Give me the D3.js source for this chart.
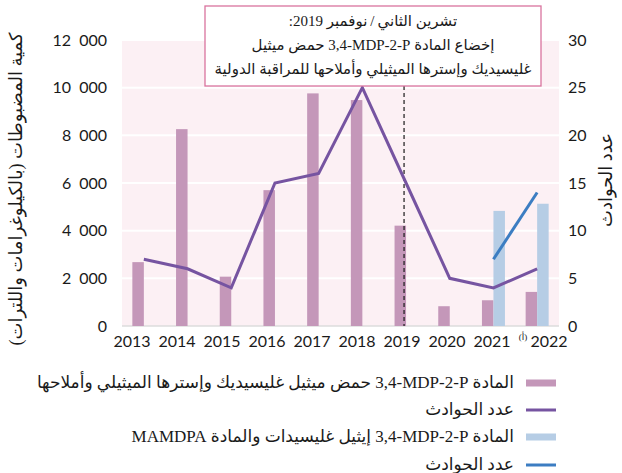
<!DOCTYPE html>
<html>
<head>
<meta charset="utf-8">
<script src="https://cdn.jsdelivr.net/npm/d3@7"></script>
<style>
  html, body { margin: 0; padding: 0; background: #ffffff; }
  svg { display: block; }
  .num { font-family: Lato, "Open Sans", sans-serif; fill: #1a1a1a; }
  .ar { font-family: "Liberation Serif", "DejaVu Sans", serif; fill: #1a1a1a; }
</style>
</head>
<body>
<svg id="chart" width="622" height="473"></svg>
<script>
// ---- data ----
const years = [2013, 2014, 2015, 2016, 2017, 2018, 2019, 2020, 2021, 2022];
const seizuresMGA = [2680, 8260, 2070, 5700, 9760, 9480, 4210, 830, 1080, 1430];
const incidentsMGA = [7, 6, 4, 15, 16, 25, 15, 5, 4, 6];
const yearsEG = [2021, 2022];
const seizuresEG = [4830, 5130];
const incidentsEG = [7, 14];
const leftTicks = [0, 2000, 4000, 6000, 8000, 10000, 12000];
const rightTicks = [0, 5, 10, 15, 20, 25, 30];
const noteYear = 2022;
const scheduleYear = 2019;

const LRI = "\u2066", PDI = "\u2069";
const leftTitle = "كمية المضبوطات (بالكيلوغرامات واللترات)";
const rightTitle = "عدد الحوادث";
const annotationLines = [
  "تشرين الثاني\u2009/\u2009نوفمبر 2019:",
  "إخضاع المادة " + LRI + "3,4-MDP-2-P" + PDI + " حمض ميثيل",
  "غليسيديك وإسترها الميثيلي وأملاحها للمراقبة الدولية"
];
const legendItems = [
  { type: "bar",  color: "#c497b9", label: "المادة " + LRI + "3,4-MDP-2-P" + PDI + " حمض ميثيل غليسيديك وإسترها الميثيلي وأملاحها" },
  { type: "line", color: "#7654a1", label: "عدد الحوادث" },
  { type: "bar",  color: "#b6cde5", label: "المادة " + LRI + "3,4-MDP-2-P" + PDI + " إيثيل غليسيدات والمادة " + LRI + "MAMDPA" + PDI },
  { type: "line", color: "#3c7dc2", label: "عدد الحوادث" }
];

// ---- layout ----
const plot = { left: 122, right: 559, top: 40, bottom: 326 };
const barW = 11.5;
const colors = { bg: "#fcf0f4", pink: "#c497b9", purple: "#7654a1", blue: "#b6cde5", blueLine: "#3c7dc2", box: "#d9739e" };

const svg = d3.select("#chart");

const x = d3.scaleBand().domain(years).range([plot.left, plot.right]).padding(0);
const xc = d => x(d) + x.bandwidth() / 2;
const xLabel = d3.scalePoint().domain(years).range([132, 537]);
const yL = d3.scaleLinear().domain([0, 12000]).range([plot.bottom, plot.top]);
const yR = d3.scaleLinear().domain([0, 30]).range([plot.bottom, plot.top]);

// background
svg.append("rect")
  .attr("x", plot.left).attr("y", plot.top)
  .attr("width", plot.right - plot.left).attr("height", plot.bottom - plot.top)
  .attr("fill", colors.bg);

// gridlines
svg.append("g").selectAll("line").data(leftTicks.filter(t => t > 0)).join("line")
  .attr("x1", plot.left).attr("x2", plot.right)
  .attr("y1", d => yL(d)).attr("y2", d => yL(d))
  .attr("stroke", "#ffffff").attr("stroke-width", 2);

// baseline
svg.append("line")
  .attr("x1", plot.left).attr("x2", plot.right)
  .attr("y1", yL(0)).attr("y2", yL(0))
  .attr("stroke", "#dcdcdc").attr("stroke-width", 1.5);

// bars MGA (pink)
svg.append("g").selectAll("rect").data(years.map((y, i) => ({ y, v: seizuresMGA[i] }))).join("rect")
  .attr("x", d => xc(d.y) - barW)
  .attr("y", d => yL(d.v))
  .attr("width", barW)
  .attr("height", d => yL(0) - yL(d.v))
  .attr("fill", colors.pink);

// bars EG (blue)
svg.append("g").selectAll("rect").data(yearsEG.map((y, i) => ({ y, v: seizuresEG[i] }))).join("rect")
  .attr("x", d => xc(d.y))
  .attr("y", d => yL(d.v))
  .attr("width", barW)
  .attr("height", d => yL(0) - yL(d.v))
  .attr("fill", colors.blue);

// dashed scheduling line
svg.append("line")
  .attr("x1", xc(scheduleYear) - 2).attr("x2", xc(scheduleYear) - 2)
  .attr("y1", 86).attr("y2", yL(0))
  .attr("stroke", "#1a1a1a").attr("stroke-width", 1.2)
  .attr("stroke-dasharray", "4,3");

// lines
const lineGen = d3.line().x(d => xc(d.y)).y(d => yR(d.v));
svg.append("path")
  .datum(years.map((y, i) => ({ y, v: incidentsMGA[i] })))
  .attr("d", lineGen)
  .attr("fill", "none").attr("stroke", colors.purple).attr("stroke-width", 3)
  .attr("stroke-linejoin", "miter");
svg.append("path")
  .datum(yearsEG.map((y, i) => ({ y, v: incidentsEG[i] })))
  .attr("d", lineGen)
  .attr("fill", "none").attr("stroke", colors.blueLine).attr("stroke-width", 3);

// axes
const loc = d3.formatLocale({ decimal: ".", thousands: "\u2002", grouping: [3], currency: ["", ""] });
const fmt = loc.format(",");
const axL = svg.append("g").attr("transform", `translate(${plot.left},0)`)
  .call(d3.axisLeft(yL).tickValues(leftTicks).tickSize(0).tickPadding(15).tickFormat(fmt));
axL.select(".domain").remove();
axL.selectAll("text").attr("font-size", 16).attr("fill", "#1a1a1a").attr("font-family", "Lato, sans-serif");

const axR = svg.append("g").attr("transform", `translate(${plot.right},0)`)
  .call(d3.axisRight(yR).tickValues(rightTicks).tickSize(0).tickPadding(9));
axR.select(".domain").remove();
axR.selectAll("text").attr("font-size", 16).attr("fill", "#1a1a1a").attr("font-family", "Lato, sans-serif");

// x labels
svg.append("g").selectAll("text").data(years).join("text")
  .attr("class", "num")
  .attr("x", d => xLabel(d) + (d === noteYear ? 12 : 0))
  .attr("y", 347)
  .attr("text-anchor", "middle")
  .attr("font-size", 16)
  .text(d => d);
svg.append("text")
  .attr("class", "ar")
  .attr("x", xLabel(noteYear) - 14).attr("y", 340)
  .attr("text-anchor", "middle")
  .attr("font-size", 9)
  .text("(أ)");

// axis titles
svg.append("text")
  .attr("class", "ar")
  .attr("transform", "translate(22,189) rotate(-90)")
  .attr("text-anchor", "middle")
  .attr("direction", "rtl")
  .attr("font-size", 18)
  .text(leftTitle);
svg.append("text")
  .attr("class", "ar")
  .attr("transform", "translate(612,180) rotate(-90)")
  .attr("text-anchor", "middle")
  .attr("direction", "rtl")
  .attr("font-size", 18)
  .text(rightTitle);

// annotation box
svg.append("rect")
  .attr("x", 205).attr("y", 6).attr("width", 336).attr("height", 80)
  .attr("fill", "#ffffff").attr("stroke", colors.box).attr("stroke-width", 1.3);
svg.append("g").selectAll("text").data(annotationLines).join("text")
  .attr("class", "ar")
  .attr("x", 373)
  .attr("y", (d, i) => 26 + i * 24)
  .attr("text-anchor", "middle")
  .attr("direction", "rtl")
  .attr("font-size", 15)
  .text(d => d);

// legend
const lg = svg.append("g");
const rowY = [383, 410, 437, 465];
legendItems.forEach((it, i) => {
  if (it.type === "bar") {
    lg.append("rect").attr("x", 526).attr("y", rowY[i] - 3.5).attr("width", 30).attr("height", 7).attr("fill", it.color);
  } else {
    lg.append("line").attr("x1", 526).attr("x2", 556).attr("y1", rowY[i]).attr("y2", rowY[i])
      .attr("stroke", it.color).attr("stroke-width", 3);
  }
  lg.append("text")
    .attr("class", "ar")
    .attr("x", 514).attr("y", rowY[i] + 5)
    .attr("text-anchor", "start")
    .attr("direction", "rtl")
    .attr("font-size", 17)
    .text(it.label);
});
</script>
</body>
</html>
